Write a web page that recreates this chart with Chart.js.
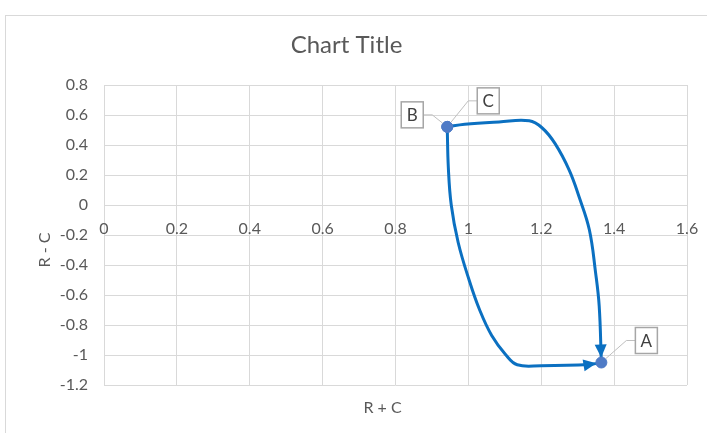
<!DOCTYPE html>
<html>
<head>
<meta charset="utf-8">
<script src="https://cdn.jsdelivr.net/npm/chart.js@4/dist/chart.umd.min.js"></script>
<style>
html, body { margin: 0; padding: 0; background: #fff; width: 707px; height: 433px; overflow: hidden; }
#box { position: absolute; left: 5px; top: 15px; width: 708px; height: 430px; border: 1px solid #d9d9d9; background: #fff; }
canvas { display: block; }
</style>
</head>
<body>
<div id="box"><canvas id="myChart" width="708" height="430"></canvas></div>
<script>
// labelled points (C sits on top of B)
const pointNames = ['A', 'B', 'C'];
const pointX = [1.365, 0.942, 0.942];
const pointY = [-1.05, 0.521, 0.521];

// upper path: C -> across the top -> down to A
const upperX = [0.942, 0.990, 1.084, 1.167, 1.202, 1.238, 1.277, 1.304, 1.332, 1.349, 1.359, 1.365];
const upperY = [0.521, 0.539, 0.554, 0.561, 0.515, 0.409, 0.231, 0.053, -0.165, -0.449, -0.673, -1.05];

// lower path: B -> down the left side -> along the bottom to A
const lowerX = [0.942, 0.945, 0.953, 0.972, 1.002, 1.031, 1.064, 1.103, 1.134, 1.200, 1.332, 1.365];
const lowerY = [0.521, 0.250, 0.000, -0.250, -0.500, -0.700, -0.870, -1.000, -1.065, -1.071, -1.063, -1.05];

const xTickLabels = ['0', '0.2', '0.4', '0.6', '0.8', '1', '1.2', '1.4', '1.6'];
const yTickLabels = ['-1.2', '-1', '-0.8', '-0.6', '-0.4', '-0.2', '0', '0.2', '0.4', '0.6', '0.8'];

const FONT = 'Lato, "Open Sans", sans-serif';
const GREY = '#595959';

function toPoints(xs, ys) {
    return xs.map((x, i) => ({ x: x, y: ys[i] }));
}

// arrow head at the end of a line dataset
const arrowPlugin = {
    id: 'arrows',
    afterDatasetDraw(chart, args) {
        const ds = chart.data.datasets[args.index];
        if (!ds.arrow) return;
        const pts = args.meta.data;
        const last = pts[pts.length - 1];
        const prev = pts[pts.length - 2];
        const fx = last.cp1x !== undefined ? last.cp1x : prev.x;
        const fy = last.cp1y !== undefined ? last.cp1y : prev.y;
        const a = Math.atan2(last.y - fy, last.x - fx);
        const dx = Math.cos(a), dy = Math.sin(a);
        const tipX = last.x - 5 * dx, tipY = last.y - 5 * dy;
        const bx = tipX - 13 * dx, by = tipY - 13 * dy;
        const ctx = chart.ctx;
        ctx.save();
        ctx.fillStyle = ds.borderColor;
        ctx.beginPath();
        ctx.moveTo(tipX, tipY);
        ctx.lineTo(bx - 6 * dy, by + 6 * dx);
        ctx.lineTo(bx + 6 * dy, by - 6 * dx);
        ctx.closePath();
        ctx.fill();
        ctx.restore();
    }
};

// boxed data labels with leader lines
const labelPlugin = {
    id: 'boxLabels',
    afterDatasetsDraw(chart, args, opts) {
        const meta = chart.getDatasetMeta(0);
        const ctx = chart.ctx;
        ctx.save();
        meta.data.forEach((pt, i) => {
            const off = opts.offsets[i];
            const cx = pt.x + off.dx, cy = pt.y + off.dy;
            const w = 22, h = 26;
            const left = cx - w / 2, right = cx + w / 2;
            const edgeX = off.dx > 0 ? left : right;
            const kneeX = off.dx > 0 ? left - 9 : right + 9;
            const a = Math.atan2(cy - pt.y, kneeX - pt.x);
            ctx.strokeStyle = '#bfbfbf';
            ctx.lineWidth = 1;
            ctx.beginPath();
            ctx.moveTo(pt.x + 6 * Math.cos(a), pt.y + 6 * Math.sin(a));
            ctx.lineTo(kneeX, cy);
            ctx.lineTo(edgeX, cy);
            ctx.stroke();
            ctx.fillStyle = '#fff';
            ctx.fillRect(left, cy - h / 2, w, h);
            ctx.strokeStyle = '#a6a6a6';
            ctx.lineWidth = 1.5;
            ctx.strokeRect(left, cy - h / 2, w, h);
            ctx.fillStyle = '#404040';
            ctx.font = '17px ' + FONT;
            ctx.textAlign = 'center';
            ctx.textBaseline = 'middle';
            ctx.fillText(pointNames[i], cx, cy + 1);
        });
        ctx.restore();
    }
};

// axis titles placed like the spreadsheet does
const axisTitlePlugin = {
    id: 'axisTitles',
    afterDraw(chart) {
        const ca = chart.chartArea;
        const ctx = chart.ctx;
        ctx.save();
        ctx.fillStyle = GREY;
        ctx.font = '16px ' + FONT;
        ctx.textAlign = 'center';
        ctx.textBaseline = 'middle';
        ctx.fillText('R + C', (ca.left + ca.right) / 2 - 13, ca.bottom + 23);
        ctx.translate(39, (ca.top + ca.bottom) / 2 + 15);
        ctx.rotate(-Math.PI / 2);
        ctx.fillText('R - C', 0, 0);
        ctx.restore();
    }
};

const ctx = document.getElementById('myChart');
new Chart(ctx, {
    type: 'scatter',
    data: {
        datasets: [{
            label: 'points',
            data: toPoints(pointX, pointY),
            pointRadius: 5.5,
            pointBackgroundColor: '#4f7bc6',
            pointBorderColor: '#4f7bc6',
            showLine: false
        }, {
            label: 'upper',
            data: toPoints(upperX, upperY),
            showLine: true,
            arrow: true,
            borderColor: '#0b70c1',
            borderWidth: 3,
            pointRadius: 0,
            tension: 0.4
        }, {
            label: 'lower',
            data: toPoints(lowerX, lowerY),
            showLine: true,
            arrow: true,
            borderColor: '#0b70c1',
            borderWidth: 3,
            pointRadius: 0,
            tension: 0.4
        }]
    },
    options: {
        responsive: false,
        animation: false,
        layout: { padding: { left: 0, right: 27, top: 0, bottom: 61 } },
        plugins: {
            legend: { display: false },
            tooltip: { enabled: false },
            title: {
                display: true,
                text: 'Chart Title',
                color: GREY,
                font: { family: FONT, size: 24, weight: 'normal' },
                padding: { top: 14.6, bottom: 25.6 }
            },
            boxLabels: {
                offsets: [{ dx: 45, dy: -22 }, { dx: -35, dy: -12 }, { dx: 41, dy: -26 }]
            }
        },
        scales: {
            x: {
                type: 'linear',
                position: { y: 0 },
                min: 0,
                max: 1.6,
                grid: { color: '#d9d9d9', drawTicks: false },
                border: { display: false },
                ticks: {
                    stepSize: 0.2,
                    color: GREY,
                    padding: 14,
                    font: { family: FONT, size: 16 },
                    callback: (value, index) => xTickLabels[index]
                }
            },
            y: {
                type: 'linear',
                min: -1.2,
                max: 0.8,
                grid: { color: '#d9d9d9', drawTicks: false },
                border: { display: false },
                afterFit: (scale) => { scale.width = 98; },
                ticks: {
                    stepSize: 0.2,
                    color: GREY,
                    padding: 16,
                    font: { family: FONT, size: 16 },
                    callback: (value, index) => yTickLabels[index]
                }
            }
        }
    },
    plugins: [arrowPlugin, labelPlugin, axisTitlePlugin]
});
</script>
</body>
</html>
